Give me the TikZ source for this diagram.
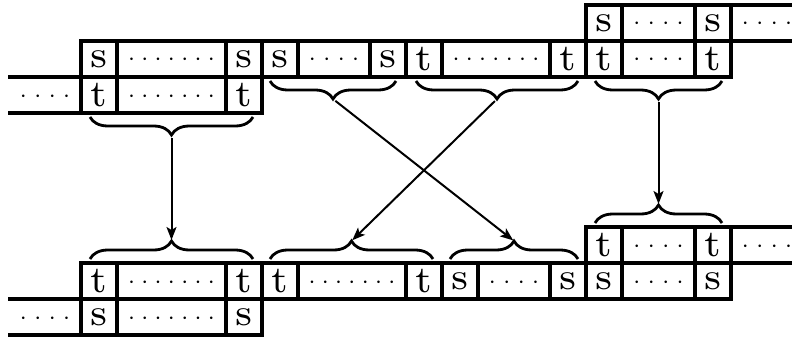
\documentclass[tikz,border=0pt]{standalone}
\usetikzlibrary{arrows.meta,decorations.pathreplacing}
\newcommand\onedot[1]{\makebox[#1]{$\cdot$}}
\newcommand\longdots{\onedot{13.3pt}\onedot{13.3pt}\onedot{13.3pt}\onedot{13.3pt}\onedot{13.3pt}\onedot{13.3pt}\onedot{13.3pt}}
\newcommand\shortdots{\onedot{14.5pt}\onedot{14.5pt}\onedot{14.5pt}\onedot{14.5pt}}
\newcommand\bigletter[1]{\scalebox{5.4}{\fontsize{7}{8}\selectfont #1}}
\begin{document}
\begin{tikzpicture}[x=1pt,y=-1pt,
  cell/.style={draw,line width=3.2pt,inner sep=0pt,outer sep=0pt,minimum height=36pt,minimum width=36pt},
  dotcell/.style={cell,font=\fontsize{28}{28}\selectfont,text height=14pt,text depth=0pt},
  opendots/.style={dotcell,draw=none},
  edge/.style={line width=3.2pt},
  brc/.style={decorate,decoration={brace,amplitude=18pt},line width=2.8pt},
  arr/.style={line width=2pt,-{Stealth[length=13pt,width=10pt,inset=3pt]},shorten <=3pt,shorten >=1pt}]
\useasboundingbox (0,0) rectangle (792,337);
% ---------- top: row A
\node[cell] (as1) at (604,23) {\bigletter{s}};
\node[dotcell,minimum width=73pt] (ad1) at (658.5,23) {\shortdots};
\node[cell] (as2) at (713,23) {\bigletter{s}};
\node[opendots] (ao) at (767,23) {\shortdots};
% ---------- top: row B
\node[cell] (bs1) at (99,59) {\bigletter{s}};
\node[dotcell,minimum width=109pt] (bd1) at (171.5,59) {\longdots};
\node[cell] (bs2) at (244,59) {\bigletter{s}};
\node[cell] (bs3) at (280,59) {\bigletter{s}};
\node[dotcell,minimum width=72pt] (bd2) at (334,59) {\shortdots};
\node[cell] (bs4) at (388,59) {\bigletter{s}};
\node[cell] (bt1) at (424,59) {\bigletter{t}};
\node[dotcell,minimum width=108pt] (bd3) at (496,59) {\longdots};
\node[cell] (bt2) at (568,59) {\bigletter{t}};
\node[cell] (bt3) at (604,59) {\bigletter{t}};
\node[dotcell,minimum width=73pt] (bd4) at (658.5,59) {\shortdots};
\node[cell] (bt4) at (713,59) {\bigletter{t}};
% ---------- top: row C
\node[opendots] (co) at (45,95) {\shortdots};
\node[cell] (ct1) at (99,95) {\bigletter{t}};
\node[dotcell,minimum width=109pt] (cd1) at (171.5,95) {\longdots};
\node[cell] (ct2) at (244,95) {\bigletter{t}};
% open edges (top)
\draw[edge] (8,77) -- (ct1.north west);
\draw[edge] (8,113) -- (ct1.south west);
\draw[edge] (as2.north east) -- (800,5);
\draw[edge] (as2.south east) -- (800,41);
% ---------- bottom: row D
\node[cell] (dt1) at (604,245) {\bigletter{t}};
\node[dotcell,minimum width=73pt] (dd1) at (658.5,245) {\shortdots};
\node[cell] (dt2) at (713,245) {\bigletter{t}};
\node[opendots] (do) at (767,245) {\shortdots};
% ---------- bottom: row E
\node[cell] (et1) at (99,281) {\bigletter{t}};
\node[dotcell,minimum width=109pt] (ed1) at (171.5,281) {\longdots};
\node[cell] (et2) at (244,281) {\bigletter{t}};
\node[cell] (et3) at (280,281) {\bigletter{t}};
\node[dotcell,minimum width=108pt] (ed2) at (352,281) {\longdots};
\node[cell] (et4) at (424,281) {\bigletter{t}};
\node[cell] (es1) at (460,281) {\bigletter{s}};
\node[dotcell,minimum width=72pt] (ed3) at (514,281) {\shortdots};
\node[cell] (es2) at (568,281) {\bigletter{s}};
\node[cell] (es3) at (604,281) {\bigletter{s}};
\node[dotcell,minimum width=73pt] (ed4) at (658.5,281) {\shortdots};
\node[cell] (es4) at (713,281) {\bigletter{s}};
% ---------- bottom: row F
\node[opendots] (fo) at (45,317) {\shortdots};
\node[cell] (fs1) at (99,317) {\bigletter{s}};
\node[dotcell,minimum width=109pt] (fd1) at (171.5,317) {\longdots};
\node[cell] (fs2) at (244,317) {\bigletter{s}};
% open edges (bottom)
\draw[edge] (8,299) -- (fs1.north west);
\draw[edge] (8,335) -- (fs1.south west);
\draw[edge] (dt2.north east) -- (800,227);
\draw[edge] (dt2.south east) -- (800,263);
% ---------- braces (top, pointing down)
\draw[brc] (253,117) -- (90,117);
\draw[brc] (396,81) -- (270,81);
\draw[brc] (578,81) -- (416,81);
\draw[brc] (722,81) -- (595,81);
% ---------- braces (bottom, pointing up)
\draw[brc] (90,259) -- (253,259);
\draw[brc] (270,259) -- (433,259);
\draw[brc] (450,259) -- (578,259);
\draw[brc] (595,223) -- (722,223);
% brace tips
\coordinate (tipTL) at (171.5,135);
\coordinate (tipTS) at (333,99);
\coordinate (tipTT) at (497,99);
\coordinate (tipTR) at (658.5,99);
\coordinate (tipBL) at (171.5,241);
\coordinate (tipBT) at (351.5,241);
\coordinate (tipBS) at (514,241);
\coordinate (tipBR) at (658.5,205);
% arrows
\draw[arr] (tipTL) -- (tipBL);
\draw[arr] (tipTS) -- (tipBS);
\draw[arr] (tipTT) -- (tipBT);
\draw[arr] (tipTR) -- (tipBR);
\end{tikzpicture}
\end{document}
